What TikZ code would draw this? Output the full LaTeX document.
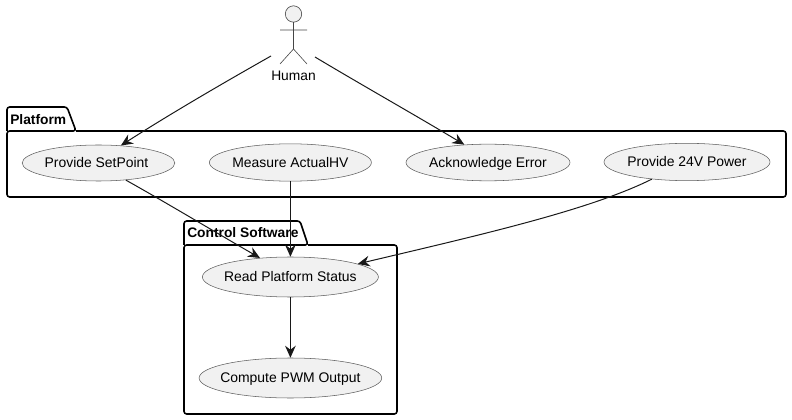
\documentclass[tikz,border=0pt]{standalone}
\usepackage{fontspec}
\setmainfont{Liberation Sans}
\usetikzlibrary{arrows.meta,shapes.geometric}
\definecolor{usecasefill}{RGB}{241, 241, 241}
\definecolor{linegrey}{RGB}{24, 24, 24}
\newcommand{\uclabel}[1]{\makebox[0pt]{#1}}

\begin{document}
\begin{tikzpicture}
  [
    x=0.75pt, y=-0.75pt,
    flow/.style={line width=0.75pt, linegrey, -{Stealth[length=9pt, width=8pt, inset=3pt]}},
    package/.style={line width=1.2pt, black, rounded corners=2pt},
    pkglabel/.style={font=\bfseries\fontsize{10.35}{12}\selectfont, inner sep=0pt, anchor=west},
    usecase/.style={ellipse, draw=linegrey!70, line width=0.4pt, fill=usecasefill, inner sep=0pt, text height=9pt, text depth=2pt, font=\fontsize{10.45}{12}\selectfont},
    actor/.style={line width=0.45pt, linegrey!80}
  ]
  \useasboundingbox (0, 0) rectangle (792, 420);

  \draw[package] (7, 131) -- (7, 107) -- (67, 107) -- (76, 131) -- (7, 131) -- (7, 197) -- (786, 197) -- (786, 131) -- (76, 131);
  \node[pkglabel] (platform) at (10, 119.5) {Platform};

  \draw[package] (184, 245) -- (184, 221) -- (300, 221) -- (308, 245) -- (184, 245) -- (184, 414) -- (397, 414) -- (397, 245) -- (308, 245);
  \node[pkglabel] (control) at (187, 233) {Control Software};

  \draw[actor, fill=usecasefill] (293.5, 14) circle[radius=8.2];
  \draw[actor] (293.5, 22) -- (293.5, 49) (280, 30) -- (307, 30) (280, 64) -- (293.5, 49) -- (307, 64);
  \node[font=\fontsize{10.35}{12}\selectfont, inner sep=0pt] (human) at (293.5, 75.5) {Human};
  \coordinate (humanleft) at (271, 56);
  \coordinate (humanright) at (315, 57);

  \node[usecase, minimum width=114.5pt, minimum height=27pt] (setpoint) at (98.5, 163) {\uclabel{\hspace{-3pt}Provide SetPoint}};
  \node[usecase, minimum width=121.5pt, minimum height=28pt] (actualhv) at (290.4, 162.5) {\uclabel{Measure ActualHV}};
  \node[usecase, minimum width=123pt, minimum height=27.5pt] (ackerror) at (488, 162.5) {\uclabel{Acknowledge Error}};
  \node[usecase, minimum width=124.5pt, minimum height=28pt] (power) at (687, 162) {\uclabel{Provide 24V Power}};
  \node[usecase, minimum width=132pt, minimum height=30pt] (status) at (290.4, 277) {\uclabel{Read Platform Status}};
  \node[usecase, minimum width=137pt, minimum height=30pt] (pwm) at (290.4, 378) {\uclabel{Compute PWM Output}};

  \draw[flow] (humanleft) .. controls (225, 82) and (170, 114) .. (setpoint.38);
  \draw[flow] (humanright) .. controls (360, 84) and (415, 115) .. (ackerror.143);
  \draw[flow] (setpoint.-32) .. controls (165, 202) and (215, 232) .. (status.148);
  \draw[flow] (actualhv) -- (status);
  \draw[flow] (power.206) .. controls (590, 210) and (480, 235) .. (status.11);
  \draw[flow] (status) -- (pwm);
\end{tikzpicture}
\end{document}
